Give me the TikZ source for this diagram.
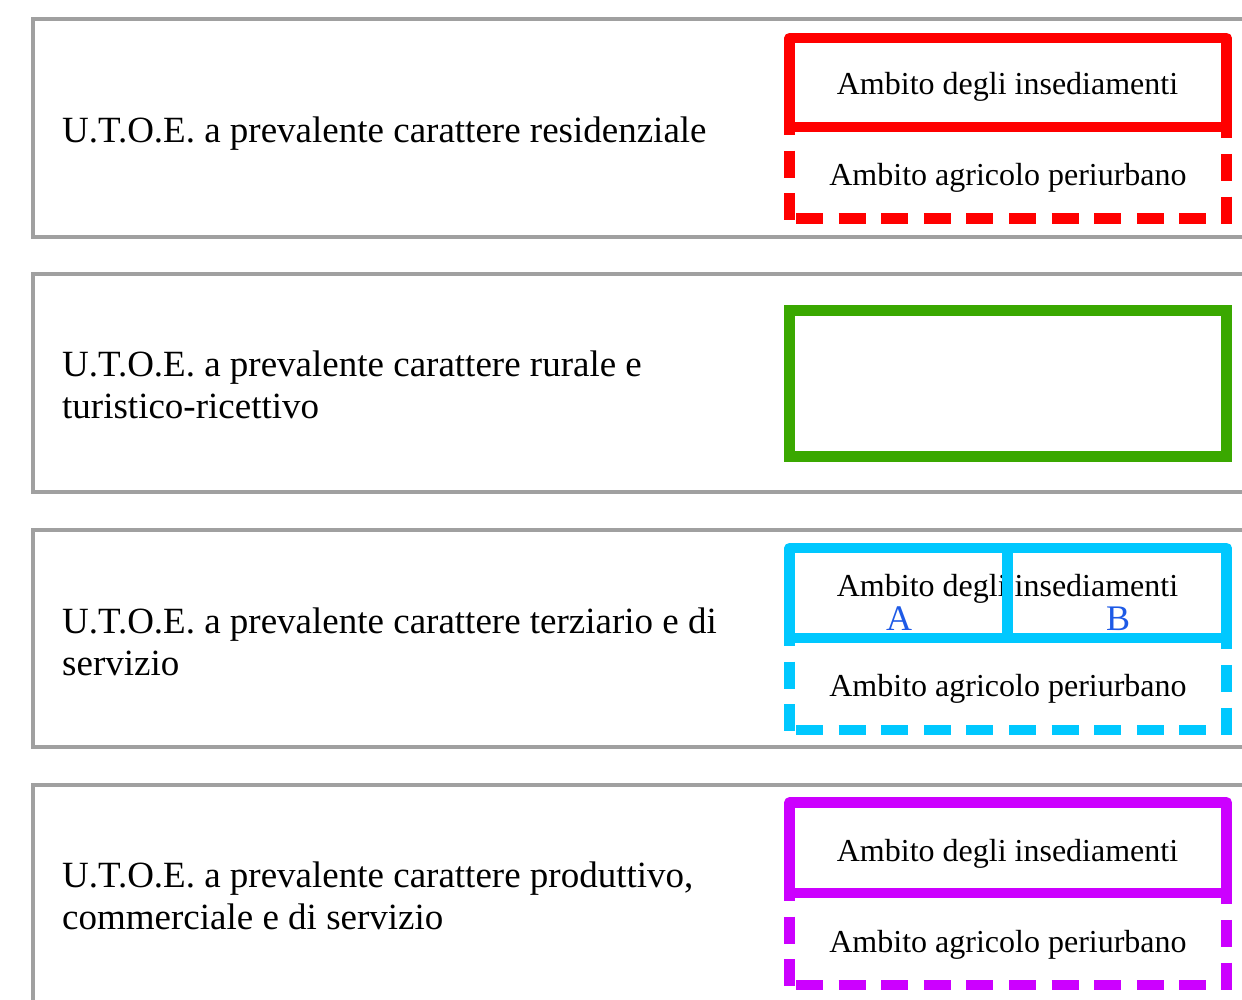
\documentclass[tikz,border=0pt]{standalone}
\usepackage{fontspec}
\setmainfont{Liberation Serif}
\definecolor{rosso}{RGB}{255,0,0}
\definecolor{verde}{RGB}{58,168,0}
\definecolor{ciano}{RGB}{0,200,255}
\definecolor{viola}{RGB}{204,0,255}
\definecolor{grigio}{RGB}{160,160,160}
\definecolor{blu}{RGB}{30,90,230}
\begin{document}
\begin{tikzpicture}[x=1pt,y=-1pt,
  outerbox/.style={draw=grigio,line width=4pt},
  solidbox/.style={line width=10.5pt,line join=round},
  dashside/.style={line width=10.5pt,dash pattern=on 27pt off 15.6pt},
  maintext/.style={anchor=base west,inner sep=0pt,font=\fontsize{37}{42}\selectfont},
  ambtext/.style={anchor=base,inner sep=0pt,font=\fontsize{32}{38}\selectfont},
  labtext/.style={anchor=base,inner sep=0pt,text=blu,font=\fontsize{36}{40}\selectfont}]
\useasboundingbox (0,0) rectangle (1242,999);
\clip (0,0) rectangle (1242,999);

% outer grey boxes
\draw[outerbox] (33,19) rectangle (1300,237);
\draw[outerbox] (33,274) rectangle (1300,492);
\draw[outerbox] (33,530) rectangle (1300,747);
\draw[outerbox] (33,785) rectangle (1300,1100);

% box 1 (red)
\draw[rosso,dashside,dash phase=19pt] (789.5,127) -- (789.5,224);
\draw[rosso,dashside,dash phase=15.7pt] (1226.7,127) -- (1226.7,224);
\draw[rosso,dashside,dash phase=36.1pt] (789.5,218.7) -- (1226.7,218.7);
\draw[rosso,solidbox] (789.5,38) rectangle (1226.7,127);

% box 2 (green)
\draw[verde,line width=11pt] (789.5,310.5) rectangle (1226.5,456.5);

% box 3 (cyan)
\draw[ciano,dashside,dash phase=19pt] (789.5,638) -- (789.5,735.5);
\draw[ciano,dashside,dash phase=15.7pt] (1226.7,638) -- (1226.7,735.5);
\draw[ciano,dashside,dash phase=36.1pt] (789.5,730) -- (1226.7,730);
\draw[ciano,solidbox] (789.5,548) rectangle (1226.7,638);

% box 4 (violet)
\draw[viola,dashside,dash phase=19pt] (789.5,893) -- (789.5,990.5);
\draw[viola,dashside,dash phase=15.7pt] (1226.7,893) -- (1226.7,990.5);
\draw[viola,dashside,dash phase=36.1pt] (789.5,985) -- (1226.7,985);
\draw[viola,solidbox] (789.5,802.5) rectangle (1226.7,893);

% left texts
\node[maintext] (t1) at (62,142) {U.T.O.E. a prevalente carattere residenziale};
\node[maintext] (t2a) at (62,376) {U.T.O.E. a prevalente carattere rurale e};
\node[maintext] (t2b) at (62,418) {turistico-ricettivo};
\node[maintext] (t3a) at (62,633) {U.T.O.E. a prevalente carattere terziario e di};
\node[maintext] (t3b) at (62,675) {servizio};
\node[maintext] (t4a) at (62,887) {U.T.O.E. a prevalente carattere produttivo,};
\node[maintext] (t4b) at (62,929) {commerciale e di servizio};

% inner texts
\node[ambtext] (i1) at (1007.5,94) {Ambito degli insediamenti};
\node[ambtext] (p1) at (1008,185) {Ambito agricolo periurbano};
\node[ambtext] (i3) at (1007.5,596) {Ambito degli insediamenti};
\node[ambtext] (p3) at (1008,696) {Ambito agricolo periurbano};
\node[labtext] (la) at (899,630) {A};
\node[labtext] (lb) at (1118,630) {B};
\draw[ciano,line width=10.5pt] (1007.5,548) -- (1007.5,638);
\node[ambtext] (i4) at (1007.5,861) {Ambito degli insediamenti};
\node[ambtext] (p4) at (1008,952) {Ambito agricolo periurbano};
\end{tikzpicture}
\end{document}
